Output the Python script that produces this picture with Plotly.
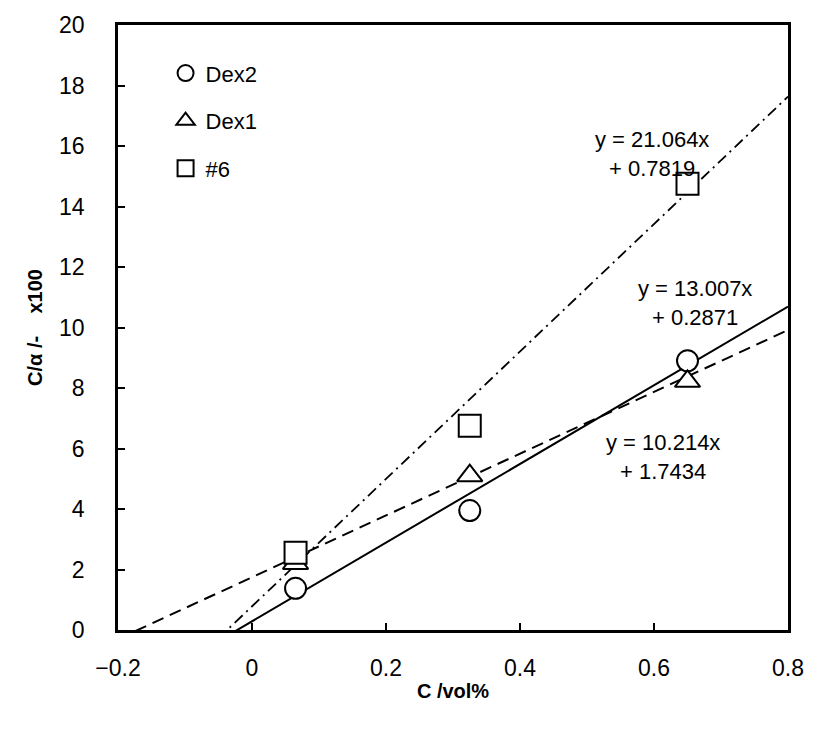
import plotly.graph_objects as go

# Data
x_vals = [0.065, 0.325, 0.65]
dex2_y = [1.38, 3.95, 8.90]
dex1_y = [2.20, 5.10, 8.22]
s6_y = [2.55, 6.75, 14.75]

# Trendline coefficients (slope, intercept)
fit_dex2 = (13.007, 0.2871)
fit_dex1 = (10.214, 1.7434)
fit_s6 = (21.064, 0.7819)

x_line = [-0.2, 0.8]
x_ticks = [-0.2, 0, 0.2, 0.4, 0.6, 0.8]
x_ticktext = ["\u22120.2", "0", "0.2", "0.4", "0.6", "0.8"]
y_ticks = list(range(0, 21, 2))

font_family = "Liberation Sans, Arial, sans-serif"

fig = go.Figure()

def line_y(fit):
    return [fit[0] * x + fit[1] for x in x_line]

# trendlines
fig.add_trace(go.Scatter(x=x_line, y=line_y(fit_dex2), mode="lines",
                         line=dict(color="black", width=2), showlegend=False, hoverinfo="skip"))
fig.add_trace(go.Scatter(x=x_line, y=line_y(fit_dex1), mode="lines",
                         line=dict(color="black", width=2, dash="12px,7px"), showlegend=False, hoverinfo="skip"))
fig.add_trace(go.Scatter(x=x_line, y=line_y(fit_s6), mode="lines",
                         line=dict(color="black", width=1.8, dash="11px,5px,2px,5px"), showlegend=False, hoverinfo="skip"))

mk = dict(color="white", line=dict(color="black", width=2))
fig.add_trace(go.Scatter(x=x_vals, y=dex2_y, mode="markers", name="Dex2", legendgroup="a",
                         marker=dict(symbol="circle", size=21, **mk)))
fig.add_trace(go.Scatter(x=x_vals, y=dex1_y, mode="markers", name="Dex1", legendgroup="b",
                         marker=dict(symbol="triangle-up", size=22, **mk)))
fig.add_trace(go.Scatter(x=x_vals, y=s6_y, mode="markers", name="#6", legendgroup="c",
                         marker=dict(symbol="square", size=22, **mk)))

ann_font = dict(family=font_family, size=22, color="black")
fig.add_annotation(x=0.597, y=15.72, text="y = 21.064x<br>+ 0.7819", showarrow=False, font=ann_font, align="center")
fig.add_annotation(x=0.661, y=10.80, text="y = 13.007x<br>+ 0.2871", showarrow=False, font=ann_font, align="center")
fig.add_annotation(x=0.613, y=5.72, text="y = 10.214x<br>+ 1.7434", showarrow=False, font=ann_font, align="center")

axis_common = dict(showgrid=False, zeroline=False, showline=True, linecolor="black", linewidth=2.5,
                   mirror=True, ticks="inside", ticklen=7, tickwidth=2, tickcolor="black",
                   tickfont=dict(family=font_family, size=23, color="black"))

fig.update_xaxes(range=[-0.2, 0.8], tickvals=x_ticks, ticktext=x_ticktext, ticklabelstandoff=16,
                 title=dict(text="<b>C /vol%</b>", font=dict(family=font_family, size=20, color="black"), standoff=4),
                 **axis_common)
fig.update_yaxes(range=[0, 20], tickvals=y_ticks, ticklabelstandoff=26,
                 title=dict(text="<b>C/\u03b1 /-\u00a0\u00a0\u00a0 x100</b>", font=dict(family=font_family, size=20, color="black"), standoff=12),
                 **axis_common)

fig.update_layout(
    width=816, height=731,
    margin=dict(l=118, r=23, t=22, b=101),
    paper_bgcolor="white", plot_bgcolor="white",
    legend=dict(x=0.071, y=0.955, xanchor="left", yanchor="top", bgcolor="rgba(0,0,0,0)",
                font=dict(family=font_family, size=22, color="black"), tracegroupgap=16,
                itemwidth=30),
    font=dict(family=font_family, color="black"),
)

fig.write_html("out.html")
